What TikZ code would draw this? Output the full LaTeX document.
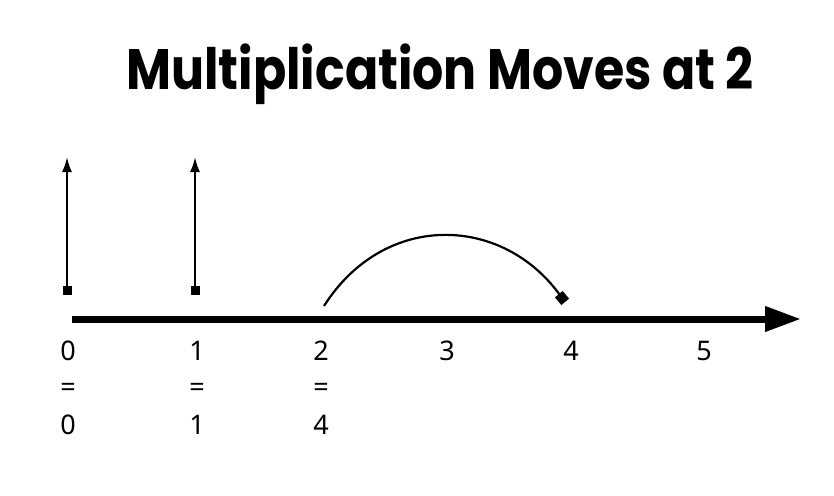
\documentclass[tikz,border=0pt]{standalone}
\usepackage{fontspec}
\setmainfont{Noto Sans}
\newfontfamily\titlefont{Poppins}
\usetikzlibrary{arrows.meta,shapes.geometric}

\begin{document}
\begin{tikzpicture}[x=1pt,y=-1pt,
    num/.style={font=\fontsize{27}{30}\selectfont, inner sep=0pt},
    start/.style={rectangle, fill=black, minimum size=9pt, inner sep=0pt},
    stop/.style={rectangle, fill=black, minimum size=10pt, inner sep=0pt, rotate=40},
    jump/.style={line width=2pt, -{Latex[length=15pt,width=10pt]}}]
\useasboundingbox (0,0) rectangle (834,495);
\node[font=\titlefont\bfseries\fontsize{57}{60}\selectfont, xscale=0.86, inner sep=0pt] (title) at (440,74) {Multiplication Moves at 2};
% number line
\coordinate (l) at (72,319);
\coordinate (r) at (801,319);
\draw[line width=7pt, -{Triangle[length=36pt,width=24pt]}] (l) -- (r);
\foreach \x/\n in {68/0,197/1,321/2,447/3,571/4,704/5}
  \node[num] (n\n) at (\x,351) {\n};
\foreach \x/\n/\v in {68/0/0,197/1/1,321/2/4}{
  \node[num] (e\n) at (\x,390) {=};
  \node[num] (v\n) at (\x,425) {\v};
}
% moves
\node[start] (s0) at (67,290) {};
\node[start] (s1) at (195,290) {};
\coordinate (t0) at (67,157);
\coordinate (t1) at (195,157);
\draw[jump] (s0.center) -- (t0);
\draw[jump] (s1.center) -- (t1);
\coordinate (a) at (324,306);
\node[stop] (d) at (562,298) {};
\draw[line width=2.2pt] (a) .. controls (385,210) and (505,215) .. (d.center);
\end{tikzpicture}
\end{document}
